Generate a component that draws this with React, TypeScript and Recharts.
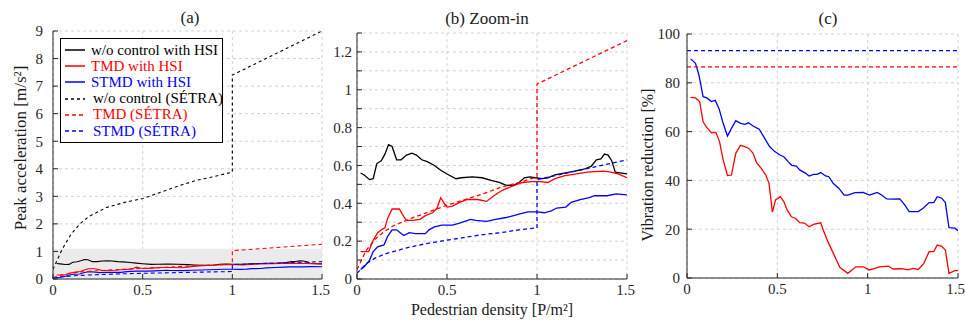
import React from 'react';
import { LineChart, Line, XAxis, YAxis, CartesianGrid, ReferenceArea, Legend } from 'recharts';

type Pt = [number, number];

const densityTicks = [0, 0.5, 1, 1.5];
const accelTicks = [0, 1, 2, 3, 4, 5, 6, 7, 8, 9];
const zoomTicks = [0, 0.1, 0.2, 0.3, 0.4, 0.5, 0.6, 0.7, 0.8, 0.9, 1, 1.1, 1.2, 1.3];
const reductionTicks = [0, 20, 40, 60, 80, 100];

const seriesNames = [
  'w/o control with HSI',
  'TMD with HSI',
  'STMD with HSI',
  'w/o control (SÉTRA)',
  'TMD (SÉTRA)',
  'STMD (SÉTRA)',
];
const seriesColors = ['#000000', '#ff0000', '#0000ff', '#000000', '#ff0000', '#0000ff'];
const seriesDashes = ['', '', '', '3 3', '4 3', '4 3'];

// peak acceleration [m/s2] vs pedestrian density [P/m2]
const noCtrlHsi: Pt[] = [
  [0.02, 0.56], [0.04, 0.55], [0.07, 0.525], [0.09, 0.53], [0.11, 0.61], [0.135, 0.625], [0.155, 0.66],
  [0.175, 0.71], [0.195, 0.7], [0.22, 0.63], [0.245, 0.63], [0.275, 0.655], [0.305, 0.665], [0.33, 0.655],
  [0.36, 0.63], [0.39, 0.62], [0.43, 0.6], [0.465, 0.575], [0.5, 0.555], [0.55, 0.53], [0.58, 0.535],
  [0.64, 0.54], [0.695, 0.535], [0.75, 0.52], [0.79, 0.51], [0.83, 0.495], [0.87, 0.495], [0.9, 0.51],
  [0.93, 0.535], [0.96, 0.54], [0.99, 0.535], [1.03, 0.53], [1.06, 0.535], [1.1, 0.55], [1.15, 0.56],
  [1.21, 0.57], [1.26, 0.58], [1.3, 0.595], [1.33, 0.63], [1.355, 0.635], [1.375, 0.66], [1.395, 0.655],
  [1.415, 0.625], [1.435, 0.565], [1.5, 0.555],
];
const tmdHsi: Pt[] = [
  [0.02, 0.145], [0.065, 0.145], [0.09, 0.205], [0.115, 0.245], [0.135, 0.26], [0.155, 0.27], [0.17, 0.32],
  [0.195, 0.37], [0.235, 0.37], [0.26, 0.33], [0.275, 0.31], [0.31, 0.31], [0.35, 0.315], [0.38, 0.335],
  [0.42, 0.35], [0.445, 0.375], [0.465, 0.43], [0.485, 0.4], [0.5, 0.38], [0.53, 0.385], [0.57, 0.405],
  [0.61, 0.42], [0.67, 0.42], [0.72, 0.41], [0.76, 0.44], [0.81, 0.47], [0.86, 0.49], [0.92, 0.51],
  [0.97, 0.515], [1.02, 0.515], [1.06, 0.51], [1.1, 0.53], [1.15, 0.545], [1.22, 0.555], [1.28, 0.565],
  [1.37, 0.57], [1.41, 0.565], [1.45, 0.555], [1.5, 0.535],
];
const stmdHsi: Pt[] = [
  [0.02, 0.05], [0.04, 0.065], [0.07, 0.1], [0.09, 0.145], [0.115, 0.17], [0.15, 0.18], [0.17, 0.225],
  [0.195, 0.26], [0.22, 0.26], [0.24, 0.245], [0.26, 0.23], [0.29, 0.245], [0.325, 0.24], [0.38, 0.24],
  [0.4, 0.26], [0.43, 0.275], [0.47, 0.285], [0.53, 0.285], [0.57, 0.295], [0.63, 0.315], [0.66, 0.31],
  [0.72, 0.305], [0.77, 0.315], [0.83, 0.325], [0.87, 0.335], [0.91, 0.345], [0.95, 0.355], [1.0, 0.355],
  [1.04, 0.35], [1.08, 0.36], [1.11, 0.375], [1.16, 0.38], [1.19, 0.405], [1.24, 0.42], [1.29, 0.43],
  [1.32, 0.44], [1.39, 0.44], [1.44, 0.45], [1.5, 0.445],
];
const noCtrlSetra: Pt[] = [
  [0, 0.35], [0.05, 1.07], [0.1, 1.62], [0.15, 2.0], [0.2, 2.27], [0.3, 2.6], [0.4, 2.78], [0.5, 2.92],
  [0.6, 3.15], [0.7, 3.38], [0.8, 3.58], [0.9, 3.72], [1, 3.88], [1, 7.4], [1.5, 9.0],
];
const tmdSetra: Pt[] = [
  [0, 0.05], [0.05, 0.15], [0.1, 0.21], [0.15, 0.25], [0.2, 0.28], [0.3, 0.32], [0.4, 0.355], [0.5, 0.39],
  [0.6, 0.42], [0.7, 0.45], [0.8, 0.485], [0.9, 0.51], [1, 0.54], [1, 1.03], [1.5, 1.26],
];
const stmdSetra: Pt[] = [
  [0, 0.03], [0.05, 0.08], [0.1, 0.11], [0.15, 0.13], [0.2, 0.145], [0.3, 0.17], [0.4, 0.19], [0.5, 0.205],
  [0.6, 0.22], [0.7, 0.235], [0.8, 0.245], [0.9, 0.26], [1, 0.27], [1, 0.525], [1.5, 0.63],
];

// vibration reduction [%]
const tmdReduction: Pt[] = [
  [0.02, 74], [0.047, 73.8], [0.07, 72.3], [0.089, 64], [0.11, 61.6], [0.135, 59.5], [0.16, 59.7], [0.18, 55.9],
  [0.2, 48.4], [0.224, 42], [0.246, 42.2], [0.27, 51.1], [0.296, 54.4], [0.32, 53.8], [0.342, 53.1],
  [0.366, 51.1], [0.385, 47.3], [0.41, 45], [0.436, 42.2], [0.454, 38.8], [0.473, 27], [0.49, 32],
  [0.517, 33.3], [0.536, 31.3], [0.554, 27.9], [0.578, 25.1], [0.6, 24.5], [0.624, 22.7], [0.65, 22.5],
  [0.676, 21], [0.7, 22], [0.74, 22.6], [0.754, 19.7], [0.78, 14.9], [0.81, 10.1], [0.846, 4.4], [0.89, 1.9],
  [0.935, 4.6], [0.975, 4.6], [1.008, 3.3], [1.04, 3.9], [1.067, 4.6], [1.114, 4.9], [1.141, 3.7],
  [1.19, 3.8], [1.225, 3.3], [1.25, 3.9], [1.28, 3.5], [1.311, 6], [1.34, 10.8], [1.366, 10.8],
  [1.385, 13.5], [1.41, 13], [1.43, 11.5], [1.45, 1.9], [1.483, 3], [1.5, 3],
];
const stmdReduction: Pt[] = [
  [0.02, 89.8], [0.047, 88], [0.066, 83.2], [0.089, 74.3], [0.11, 73.8], [0.135, 72.3], [0.156, 72.8],
  [0.177, 69.5], [0.2, 63.4], [0.224, 58.2], [0.246, 61.3], [0.27, 64.5], [0.297, 63.4], [0.32, 63],
  [0.34, 63.6], [0.366, 62.3], [0.385, 61.5], [0.4, 61], [0.43, 57.2], [0.458, 53.8], [0.486, 51.8],
  [0.515, 50.4], [0.536, 49.7], [0.56, 47.7], [0.58, 46.2], [0.605, 45.9], [0.624, 44.3], [0.655, 43],
  [0.676, 41.8], [0.7, 42.5], [0.72, 42.5], [0.74, 43.2], [0.767, 41.8], [0.785, 41.5], [0.81, 38.7],
  [0.84, 36.8], [0.87, 34], [0.89, 34], [0.93, 35], [0.975, 35.1], [1.01, 34], [1.03, 34.5], [1.053, 35.1],
  [1.077, 34], [1.105, 32.4], [1.13, 32.3], [1.178, 32.4], [1.206, 29.9], [1.23, 27.2], [1.28, 27.2],
  [1.307, 28.6], [1.34, 30.9], [1.366, 30.9], [1.385, 33.3], [1.41, 32.7], [1.43, 30.9], [1.45, 20.6],
  [1.483, 20.4], [1.5, 19.4],
];
const tmdSetraReduction: Pt[] = [[0, 86.5], [1.5, 86.5]];
const stmdSetraReduction: Pt[] = [[0, 93.2], [1.5, 93.2]];

const serif = 'Liberation Serif, DejaVu Serif, serif';
const axisColor = '#262626';
const gridColor = '#d2d2d2';
const tickStyle = { fontSize: 15, fill: axisColor, fontFamily: serif, style: { fontFamily: serif } };

const rows = (pts: Pt[]) => pts.map(([x, y]) => ({ x, y }));
const fmt = (v: number) => String(Math.round(v * 10) / 10);
const fmtEven = (v: number) => (Math.round(v * 10) % 2 === 0 ? fmt(v) : '');

function frame(yDomain: [number, number], yTicks: number[], yWidth: number, yMargin: number, yFmt: (v: number) => string) {
  return [
    <XAxis key="xb" xAxisId="b" type="number" dataKey="x" domain={[0, 1.5]} ticks={densityTicks}
      tickFormatter={fmt} tick={tickStyle} tickSize={-5} tickMargin={10} height={25} stroke={axisColor} allowDataOverflow />,
    <XAxis key="xt" xAxisId="t" orientation="top" type="number" dataKey="x" domain={[0, 1.5]} ticks={densityTicks}
      tick={false} tickSize={-5} height={0} stroke={axisColor} />,
    <YAxis key="yl" yAxisId="l" type="number" domain={yDomain} ticks={yTicks} tickFormatter={yFmt} tick={tickStyle}
      tickSize={-5} tickMargin={yMargin} width={yWidth} stroke={axisColor} allowDataOverflow interval={0} />,
    <YAxis key="yr" yAxisId="r" orientation="right" type="number" domain={yDomain} ticks={yTicks} tick={false}
      tickSize={-5} width={0} stroke={axisColor} />,
  ];
}

function series(key: string, pts: Pt[], idx: number, width = 1.3) {
  return (
    <Line key={key} xAxisId="b" yAxisId="l" data={rows(pts)} dataKey="y" name={seriesNames[idx]}
      stroke={seriesColors[idx]} strokeWidth={width} strokeDasharray={seriesDashes[idx] || undefined}
      dot={false} activeDot={false} type="linear" isAnimationActive={false} />
  );
}

const renderLegend = () => (
  <div style={{ border: '1px solid #000', background: '#fff', width: 163, height: 105, boxSizing: 'border-box', padding: '3px 0 0 4px', fontFamily: serif }}>
    {seriesNames.map((name, i) => (
      <div key={name} style={{ display: 'flex', alignItems: 'center', height: 16.2, fontSize: 15, color: seriesColors[i], whiteSpace: 'nowrap' }}>
        <svg width={20} height={4} style={{ flex: 'none' }}>
          <line x1={0} y1={2} x2={20} y2={2} stroke={seriesColors[i]} strokeWidth={1.5} strokeDasharray={seriesDashes[i] || undefined} />
        </svg>
        <span style={{ marginLeft: i >= 3 ? 8 : 6 }}>{name}</span>
      </div>
    ))}
  </div>
);

const textBase: React.CSSProperties = { position: 'absolute', fontFamily: serif, color: '#1a1a1a', whiteSpace: 'nowrap', lineHeight: 1 };
const chartStyle: React.CSSProperties = { fontFamily: serif };

export default function App() {
  return (
    <div style={{ position: 'absolute', left: 0, top: 0, width: 965, height: 322, background: '#fff', fontFamily: serif }}>
      <div style={{ position: 'absolute', left: 0, top: 0 }}>
        <LineChart width={330} height={322} style={chartStyle} margin={{ top: 31, right: 8, left: 28, bottom: 18 }}>
          <ReferenceArea xAxisId="b" yAxisId="l" x1={0} x2={1.5} y1={0} y2={1.1} fill="#ebebeb" fillOpacity={1} stroke="none" />
          <CartesianGrid xAxisId="b" yAxisId="l" stroke={gridColor} strokeDasharray="3 3" />
          {frame([0, 9], accelTicks, 25, 15, fmt)}
          {series('a0', noCtrlHsi, 0, 1.1)}
          {series('a1', tmdHsi, 1, 1.1)}
          {series('a2', stmdHsi, 2, 1.1)}
          {series('a3', noCtrlSetra, 3, 1.1)}
          {series('a4', tmdSetra, 4, 1.1)}
          {series('a5', stmdSetra, 5, 1.1)}
          <Legend layout="vertical" align="center" verticalAlign="middle" content={renderLegend}
            wrapperStyle={{ left: 60, top: 38, width: 163, height: 105 }} />
        </LineChart>
      </div>
      <div style={{ position: 'absolute', left: 322, top: 0 }}>
        <LineChart width={313} height={322} style={chartStyle} margin={{ top: 33, right: 8, left: 5, bottom: 18 }}>
          <CartesianGrid xAxisId="b" yAxisId="l" stroke={gridColor} strokeDasharray="3 3" />
          {frame([0, 1.3], zoomTicks, 30, 10, fmtEven)}
          {series('b0', noCtrlHsi, 0)}
          {series('b1', tmdHsi, 1)}
          {series('b2', stmdHsi, 2)}
          {series('b4', tmdSetra, 4)}
          {series('b5', stmdSetra, 5)}
        </LineChart>
      </div>
      <div style={{ position: 'absolute', left: 635, top: 0 }}>
        <LineChart width={330} height={322} style={chartStyle} margin={{ top: 34, right: 7, left: 22, bottom: 19 }}>
          <CartesianGrid xAxisId="b" yAxisId="l" stroke={gridColor} strokeDasharray="3 3" />
          {frame([0, 100], reductionTicks, 30, 12, fmt)}
          {series('c1', tmdReduction, 1)}
          {series('c2', stmdReduction, 2)}
          {series('c4', tmdSetraReduction, 4)}
          {series('c5', stmdSetraReduction, 5)}
        </LineChart>
      </div>
      <div style={{ ...textBase, left: 190, top: 9, fontSize: 17, transform: 'translateX(-50%)' }}>(a)</div>
      <div style={{ ...textBase, left: 487, top: 10, fontSize: 17, transform: 'translateX(-50%)' }}>(b) Zoom-in</div>
      <div style={{ ...textBase, left: 828, top: 10, fontSize: 17, transform: 'translateX(-50%)' }}>(c)</div>
      <div style={{ ...textBase, left: 492, top: 302, fontSize: 16, transform: 'translateX(-50%)' }}>Pedestrian density [P/m²]</div>
      <div style={{ ...textBase, left: 20, top: 148, fontSize: 17, transform: 'translate(-50%, -50%) rotate(-90deg)' }}>Peak acceleration [m/s²]</div>
      <div style={{ ...textBase, left: 648, top: 165, fontSize: 16, transform: 'translate(-50%, -50%) rotate(-90deg)' }}>Vibration reduction [%]</div>
    </div>
  );
}
